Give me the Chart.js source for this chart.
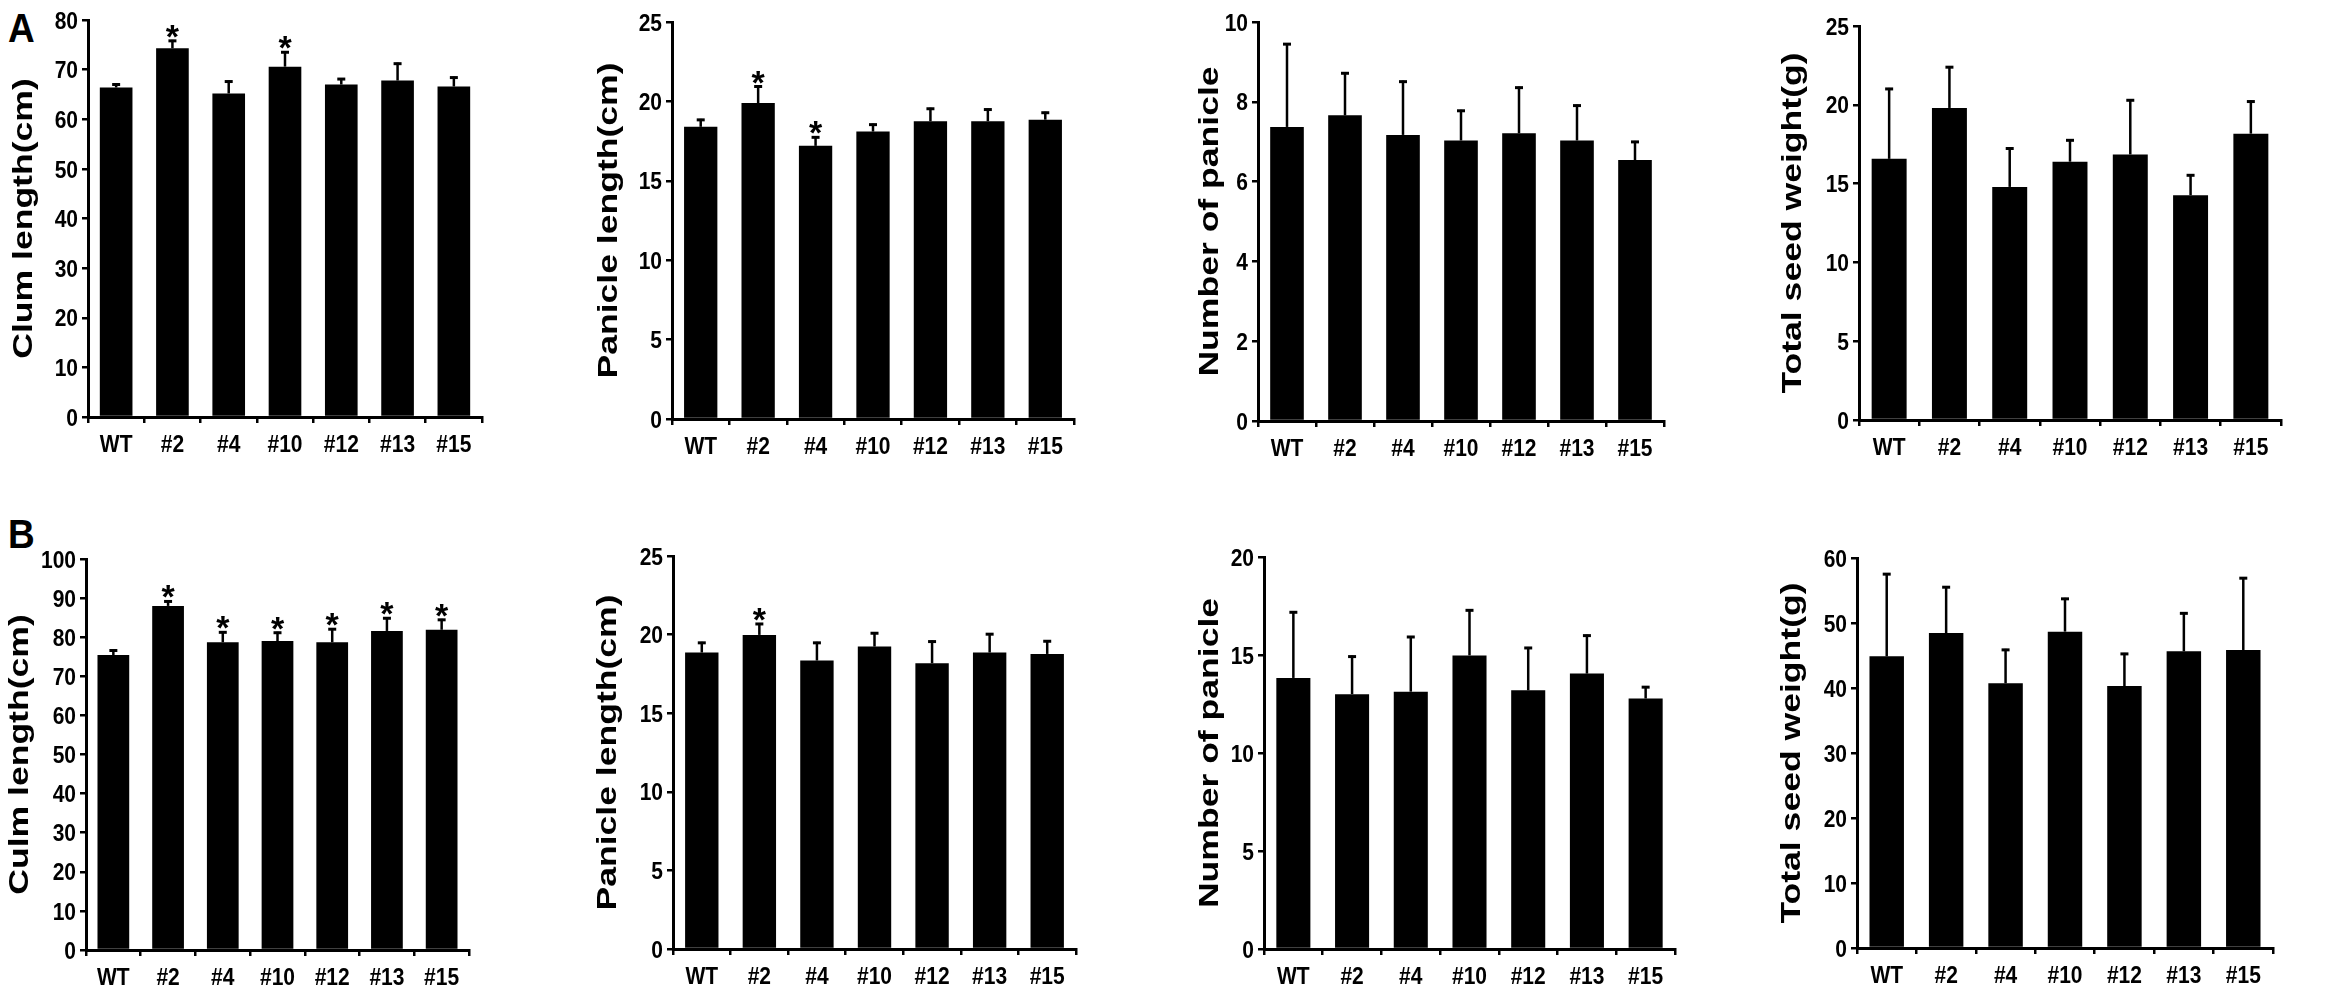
<!DOCTYPE html>
<html>
<head>
<meta charset="utf-8">
<script src="https://cdn.jsdelivr.net/npm/chart.js@4.4.1/dist/chart.umd.min.js"></script>
<style>
  html, body { margin:0; padding:0; background:#fff; width:2342px; height:994px; overflow:hidden; }
  .panel { position:absolute; }
  .letter { position:absolute; font-family:"Liberation Sans", Arial, sans-serif; font-weight:bold; font-size:37px; color:#000; line-height:1; transform-origin:0 0; transform:scaleY(1.1); }
</style>
</head>
<body>
<div class="letter" style="left:8px;top:8px;">A</div>
<div class="letter" style="left:8px;top:514px;">B</div>
<script>
// ---------- DATA ----------
const categories = ["WT", "#2", "#4", "#10", "#12", "#13", "#15"];

const clumLengthA      = [66.4, 74.3, 65.2, 70.6, 67.0, 67.8, 66.6];
const clumLengthA_sd   = [0.8, 1.7, 2.6, 3.1, 1.3, 3.6, 2.0];
const clumLengthA_sig  = [false, true, false, true, false, false, false];

const panicleLengthA     = [18.4, 19.9, 17.2, 18.1, 18.75, 18.75, 18.85];
const panicleLengthA_sd  = [0.5, 1.1, 0.6, 0.5, 0.85, 0.8, 0.5];
const panicleLengthA_sig = [false, true, true, false, false, false, false];

const panicleNumberA     = [7.37, 7.66, 7.17, 7.03, 7.21, 7.03, 6.54];
const panicleNumberA_sd  = [2.1, 1.08, 1.36, 0.77, 1.17, 0.9, 0.48];
const panicleNumberA_sig = [false, false, false, false, false, false, false];

const seedWeightA     = [16.57, 19.8, 14.79, 16.39, 16.85, 14.26, 18.17];
const seedWeightA_sd  = [4.5, 2.65, 2.5, 1.42, 3.5, 1.33, 2.1];
const seedWeightA_sig = [false, false, false, false, false, false, false];

const culmLengthB     = [75.45, 88.0, 78.7, 79.0, 78.7, 81.6, 81.9];
const culmLengthB_sd  = [1.4, 1.4, 2.8, 2.4, 3.6, 3.5, 2.8];
const culmLengthB_sig = [false, true, true, true, true, true, true];

const panicleLengthB     = [18.86, 19.98, 18.35, 19.24, 18.18, 18.86, 18.77];
const panicleLengthB_sd  = [0.68, 0.76, 1.19, 0.91, 1.44, 1.23, 0.87];
const panicleLengthB_sig = [false, true, false, false, false, false, false];

const panicleNumberB     = [13.83, 13.0, 13.13, 14.98, 13.2, 14.05, 12.78];
const panicleNumberB_sd  = [3.4, 1.97, 2.84, 2.35, 2.21, 1.99, 0.63];
const panicleNumberB_sig = [false, false, false, false, false, false, false];

const seedWeightB     = [44.87, 48.46, 40.72, 48.67, 40.3, 45.64, 45.85];
const seedWeightB_sd  = [12.8, 7.2, 5.3, 5.2, 5.1, 6.0, 11.2];
const seedWeightB_sig = [false, false, false, false, false, false, false];

const yTitles = ["Clum length(cm)", "Panicle length(cm)", "Number of panicle", "Total seed weight(g)",
                 "Culm length(cm)", "Panicle length(cm)", "Number of panicle", "Total seed weight(g)"];
const yMax  = [80, 25, 10, 25, 100, 25, 20, 60];
const yStep = [10, 5, 2, 5, 10, 5, 5, 10];

// ---------- LAYOUT (pixels) ----------
const layoutBoxes = [
  // axisX, plotRight, plotTop, plotBottom, titleCenterX
  [88,   482,  20, 417, 24],
  [672,  1074, 22, 419, 609],
  [1258, 1664, 22, 421, 1210],
  [1859, 2281, 26, 420, 1793],
  [86,   469,  559, 950, 20],
  [673,  1076, 556, 949, 608],
  [1264, 1675, 557, 949, 1210],
  [1857, 2273, 558, 948, 1792]
];

const panelsData = [
  [clumLengthA, clumLengthA_sd, clumLengthA_sig],
  [panicleLengthA, panicleLengthA_sd, panicleLengthA_sig],
  [panicleNumberA, panicleNumberA_sd, panicleNumberA_sig],
  [seedWeightA, seedWeightA_sd, seedWeightA_sig],
  [culmLengthB, culmLengthB_sd, culmLengthB_sig],
  [panicleLengthB, panicleLengthB_sd, panicleLengthB_sig],
  [panicleNumberB, panicleNumberB_sd, panicleNumberB_sig],
  [seedWeightB, seedWeightB_sd, seedWeightB_sig]
];

const FONT = '"Liberation Sans", Arial, sans-serif';
const TOP_PAD = 15, XH = 46, RIGHT_PAD = 3, TITLE_OFF = 20;
const TICK_FONT = 21, TITLE_FONT = 28, VSTRETCH = 1.15, TITLE_STRETCH = 1.27;

function stretchedText(ctx, text, x, y, align, sx, sy, rot) {
  ctx.save();
  ctx.translate(x, y);
  if (rot) ctx.rotate(rot);
  ctx.scale(sx, sy);
  ctx.textAlign = align;
  ctx.textBaseline = 'alphabetic';
  ctx.fillText(text, 0, 0);
  ctx.restore();
}

const errorBarPlugin = {
  id: 'errorBars',
  afterDatasetsDraw(chart) {
    const cfg = chart.options.plugins.errorBars;
    const meta = chart.getDatasetMeta(0);
    const ys = chart.scales.y;
    const ctx = chart.ctx;
    ctx.save();
    ctx.strokeStyle = '#000';
    ctx.fillStyle = '#000';
    meta.data.forEach((bar, i) => {
      const v = cfg.values[i], e = cfg.sd[i];
      const yTop = ys.getPixelForValue(v + e);
      ctx.lineWidth = 2.5;
      ctx.beginPath();
      ctx.moveTo(bar.x, bar.y);
      ctx.lineTo(bar.x, yTop);
      ctx.stroke();
      ctx.lineWidth = 3;
      ctx.beginPath();
      ctx.moveTo(bar.x - 4, yTop + 1);
      ctx.lineTo(bar.x + 4, yTop + 1);
      ctx.stroke();
      if (cfg.sig[i]) {
        ctx.font = 'bold 34px ' + FONT;
        ctx.textAlign = 'center';
        ctx.textBaseline = 'alphabetic';
        ctx.fillText('*', bar.x, yTop + 8);
      }
    });
    ctx.restore();
  }
};

// Axis texts drawn from the library's own scales, with the figure's vertical stretch
const axisTextPlugin = {
  id: 'axisText',
  afterDraw(chart) {
    const cfg = chart.options.plugins.axisText;
    const ctx = chart.ctx;
    const xs = chart.scales.x, ys = chart.scales.y;
    ctx.save();
    ctx.fillStyle = '#000';
    ctx.font = 'bold ' + TICK_FONT + 'px ' + FONT;
    ys.ticks.forEach((t) => {
      const y = ys.getPixelForValue(t.value);
      stretchedText(ctx, String(t.value), ys.right - 10, y + 0.358 * TICK_FONT * VSTRETCH, 'right', 1, VSTRETCH, 0);
    });
    xs.ticks.forEach((t, i) => {
      const x = xs.getPixelForTick(i);
      stretchedText(ctx, String(chart.data.labels[i]), x, xs.top + 35, 'center', 1, VSTRETCH, 0);
    });
    ctx.font = 'bold ' + TITLE_FONT + 'px ' + FONT;
    ctx.save();
    ctx.translate(cfg.titleX, (ys.top + ys.bottom) / 2);
    ctx.rotate(-Math.PI / 2);
    ctx.scale(TITLE_STRETCH, 1);
    ctx.textAlign = 'center';
    ctx.textBaseline = 'middle';
    ctx.fillText(cfg.title, 0, 0);
    ctx.restore();
    ctx.restore();
  }
};

panelsData.forEach((pd, k) => {
  const [axisX, plotRight, plotTop, plotBottom, titleX] = layoutBoxes[k];
  const left = titleX - TITLE_OFF;
  const top = plotTop - TOP_PAD;
  const width = plotRight + RIGHT_PAD - left;
  const height = plotBottom + XH - top;
  const yw = axisX - left;

  const div = document.createElement('div');
  div.className = 'panel';
  div.style.left = left + 'px';
  div.style.top = top + 'px';
  div.style.width = width + 'px';
  div.style.height = height + 'px';
  const canvas = document.createElement('canvas');
  div.appendChild(canvas);
  document.body.appendChild(div);

  new Chart(canvas, {
    type: 'bar',
    data: {
      labels: categories,
      datasets: [{
        data: pd[0],
        backgroundColor: '#000',
        borderWidth: 0,
        barPercentage: 0.58,
        categoryPercentage: 1.0
      }]
    },
    options: {
      responsive: true,
      maintainAspectRatio: false,
      animation: false,
      devicePixelRatio: 1,
      layout: { padding: { top: TOP_PAD, right: RIGHT_PAD, left: 0, bottom: 0 } },
      plugins: {
        legend: { display: false },
        tooltip: { enabled: false },
        errorBars: { values: pd[0], sd: pd[1], sig: pd[2] },
        axisText: { title: yTitles[k], titleX: TITLE_OFF }
      },
      scales: {
        x: {
          grid: { display: true, drawOnChartArea: false, drawTicks: true, tickLength: 6, lineWidth: 2.5, color: '#000', offset: true },
          border: { display: true, color: '#000', width: 3 },
          ticks: { display: false, autoSkip: false },
          afterFit: (s) => { s.height = XH; }
        },
        y: {
          min: 0,
          max: yMax[k],
          ticks: { display: false, stepSize: yStep[k] },
          grid: { display: true, drawOnChartArea: false, drawTicks: true, tickLength: 6, lineWidth: 2.5, color: '#000' },
          border: { display: true, color: '#000', width: 3 },
          afterFit: (s) => { s.width = yw; }
        }
      }
    },
    plugins: [errorBarPlugin, axisTextPlugin]
  });
});
</script>
</body>
</html>
